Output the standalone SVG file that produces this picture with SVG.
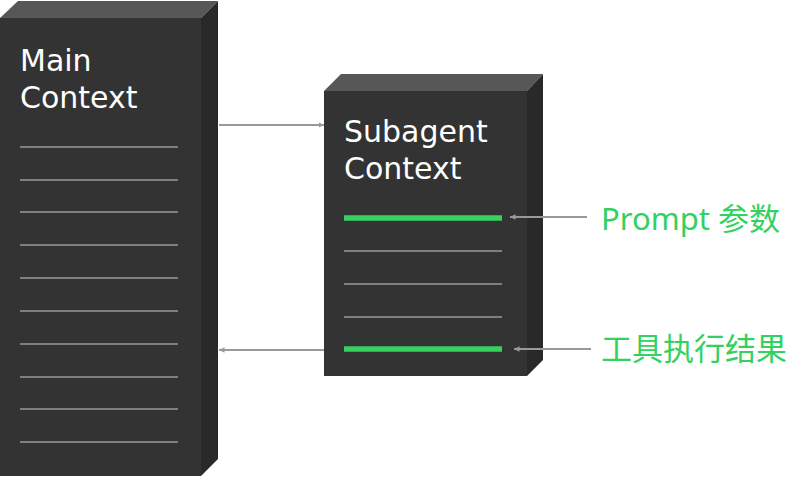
<svg xmlns="http://www.w3.org/2000/svg" width="810" height="478" viewBox="0 0 810 478">
<defs>
<style>
.front{fill:#333333}
.top{fill:#575757}
.side{fill:#292929}
.ln{stroke:#9a9a9a;stroke-width:1.6}
.gl{stroke:#37d162;stroke-width:5.5}
.t{font-family:"DejaVu Sans",sans-serif;font-size:30px;fill:#ffffff}
.g{font-family:"Noto Sans","Noto Sans CJK SC",sans-serif;font-size:31px;fill:#33d15f}
.ar{stroke:#999999;stroke-width:2;fill:none;marker-end:url(#ah)}
</style>
<marker id="ah" viewBox="0 0 10 10" refX="10" refY="5" markerWidth="5.5" markerHeight="5.5" orient="auto" markerUnits="userSpaceOnUse">
<path d="M0,0 L10,5 L0,10 z" fill="#999999"/>
</marker>
</defs>
<rect width="810" height="478" fill="#ffffff"/>
<g id="main-context">
<polygon class="top" points="0,18 18,1 218,1 201,18"/>
<polygon class="side" points="201,18 218,1 218,459 201,476"/>
<rect class="front" x="0" y="18" width="201" height="458"/>
<text class="t" x="20" y="71">Main</text>
<text class="t" x="20" y="108">Context</text>
<g class="ln">
<line x1="20" y1="147" x2="178" y2="147"/>
<line x1="20" y1="180" x2="178" y2="180"/>
<line x1="20" y1="212" x2="178" y2="212"/>
<line x1="20" y1="245" x2="178" y2="245"/>
<line x1="20" y1="278" x2="178" y2="278"/>
<line x1="20" y1="311" x2="178" y2="311"/>
<line x1="20" y1="344" x2="178" y2="344"/>
<line x1="20" y1="377" x2="178" y2="377"/>
<line x1="20" y1="409" x2="178" y2="409"/>
<line x1="20" y1="442" x2="178" y2="442"/>
</g>
</g>
<g id="subagent-context">
<polygon class="top" points="324,91 341,74 543,74 527,91"/>
<polygon class="side" points="527,91 543,74 543,360 527,376"/>
<rect class="front" x="324" y="91" width="203" height="285"/>
<text class="t" x="344" y="142">Subagent</text>
<text class="t" x="344" y="179">Context</text>
<line class="gl" x1="344" y1="218" x2="502" y2="218"/>
<g class="ln">
<line x1="344" y1="251" x2="502" y2="251"/>
<line x1="344" y1="284" x2="502" y2="284"/>
<line x1="344" y1="317" x2="502" y2="317"/>
</g>
<line class="gl" x1="344" y1="349" x2="502" y2="349"/>
</g>
<g id="label-prompt">
<text class="g" x="601" y="230">Prompt 参数</text>
</g>
<g id="label-result">
<text class="g" x="601" y="360">工具执行结果</text>
</g>
<g id="connectors">
<line class="ar" x1="219" y1="125" x2="324" y2="125"/>
<line class="ar" x1="324" y1="350" x2="219" y2="350"/>
<line class="ar" x1="587" y1="217" x2="510" y2="217"/>
<line class="ar" x1="591" y1="349" x2="514" y2="349"/>
</g>
</svg>
